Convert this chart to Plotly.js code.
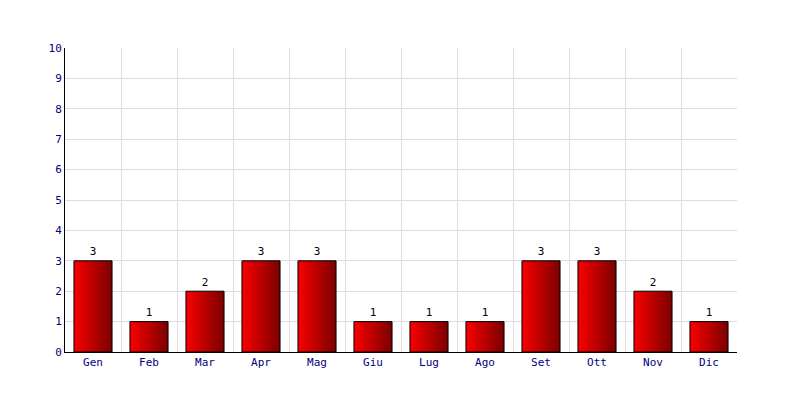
<!DOCTYPE html>
<html>
<head>
<meta charset="utf-8">
<script src="https://cdn.plot.ly/plotly-3.0.1.min.js"></script>
<style>html,body{margin:0;padding:0;background:#fff;}#chart{width:800px;height:400px;}</style>
</head>
<body>
<div id="chart"></div>
<script>
var months = ["Gen","Feb","Mar","Apr","Mag","Giu","Lug","Ago","Set","Ott","Nov","Dic"];
var counts = [3,1,2,3,3,1,1,1,3,3,2,1];
var yTicks = [0,1,2,3,4,5,6,7,8,9,10];

var barWidth = 0.68;
var idx = months.map(function(_, i){ return i; });
var traces = [];
months.forEach(function(m, i){
  var v = counts[i], a = i - barWidth/2, b = i + barWidth/2;
  traces.push({
    type: 'scatter', mode: 'lines',
    x: [a, a, b, b, a], y: [0, v, v, 0, 0],
    fill: 'toself',
    fillgradient: {type: 'horizontal', start: a, stop: b,
      colorscale: [[0, 'rgb(250,0,0)'], [1, 'rgb(122,0,0)']]},
    line: {color: '#000', width: 1},
    hoverinfo: 'skip', showlegend: false, cliponaxis: false
  });
});
traces.push({
  type: 'scatter', mode: 'markers+text', x: idx, y: counts,
  marker: {size: 3, color: 'rgba(0,0,0,0)'},
  text: counts.map(String), textposition: 'top center', cliponaxis: false,
  textfont: {family: 'DejaVu Sans Mono', size: 11, color: '#000'},
  hoverinfo: 'skip', showlegend: false
});

var layout = {
  width: 800, height: 400,
  margin: {l: 65, r: 63, t: 48, b: 48},
  paper_bgcolor: '#ffffff', plot_bgcolor: '#ffffff',
  font: {family: 'DejaVu Sans Mono', size: 11, color: '#000080'},
  xaxis: {
    range: [-0.5, 11.5], tickvals: idx, ticktext: months, showgrid: false,
    minor: {tickmode: 'linear', tick0: -0.5, dtick: 1, showgrid: true, gridcolor: '#dddddd', gridwidth: 1, ticks: ''},
    ticks: '', showline: true, linecolor: '#000', linewidth: 1, zeroline: false,
    tickfont: {family: 'DejaVu Sans Mono', size: 11, color: '#000080'}
  },
  yaxis: {
    range: [0, 10], tickvals: yTicks, ticktext: yTicks.map(String),
    showgrid: true, gridcolor: '#dddddd', gridwidth: 1, zeroline: false,
    ticks: '', showline: true, linecolor: '#000', linewidth: 1,
    tickfont: {family: 'DejaVu Sans Mono', size: 11, color: '#000080'}
  }
};
Plotly.newPlot('chart', traces, layout, {staticPlot: true, displayModeBar: false});
</script>
</body>
</html>
